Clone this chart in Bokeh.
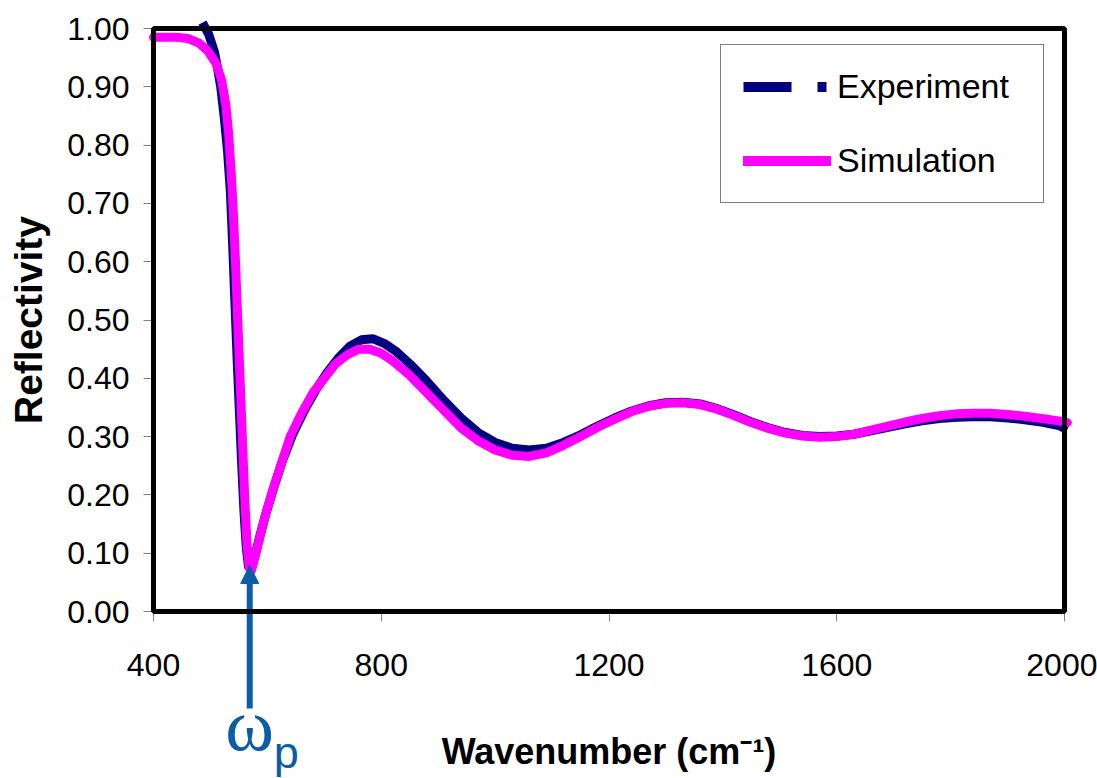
import math
from bokeh.plotting import figure
from bokeh.models import (Range1d, FixedTicker, PrintfTickFormatter, Legend, LegendItem,
                          Arrow, NormalHead, Label, LinearAxis, BoxAnnotation)
from bokeh.embed import file_html
from bokeh.resources import INLINE

# ---- data ----
sim_w = [400, 440, 460, 480, 495, 510, 520, 527, 532, 536, 540, 544, 548, 552, 556, 560,
         564, 568, 572, 576, 585, 595, 610, 625, 640, 660, 680, 700, 720, 740, 760, 780,
         800, 820, 850, 880, 910, 940, 970, 1000, 1030, 1060, 1090, 1120, 1150, 1180, 1210,
         1240, 1270, 1300, 1330, 1360, 1390, 1420, 1450, 1480, 1510, 1540, 1570, 1600, 1630,
         1660, 1690, 1720, 1750, 1780, 1810, 1840, 1870, 1900, 1930, 1960, 1990, 2005]
sim_r = [0.985, 0.985, 0.983, 0.975, 0.962, 0.94, 0.91, 0.87, 0.82, 0.76, 0.69, 0.60, 0.50,
         0.40, 0.30, 0.20, 0.12, 0.075, 0.07, 0.085, 0.12, 0.16, 0.21, 0.255, 0.30, 0.34,
         0.375, 0.40, 0.425, 0.44, 0.45, 0.45, 0.443, 0.43, 0.405, 0.375, 0.345, 0.315,
         0.293, 0.277, 0.268, 0.266, 0.272, 0.285, 0.30, 0.316, 0.33, 0.343, 0.352, 0.357,
         0.358, 0.355, 0.347, 0.336, 0.324, 0.314, 0.306, 0.301, 0.299, 0.300, 0.304, 0.311,
         0.318, 0.325, 0.331, 0.336, 0.339, 0.340, 0.340, 0.338, 0.335, 0.331, 0.327, 0.324]

exp_w = [486, 497, 507, 511, 518, 524, 530, 535, 539, 543, 547, 551, 555, 559, 563, 567,
         572, 578, 587, 598, 612, 627, 645, 665, 685, 705, 725, 745, 765, 785, 805, 825,
         850, 880, 910, 940, 970, 1000, 1030, 1060, 1090, 1120, 1150, 1180, 1210, 1240, 1270,
         1300, 1330, 1360, 1390, 1420, 1450, 1480, 1510, 1540, 1570, 1600, 1630, 1660, 1690,
         1720, 1750, 1780, 1810, 1840, 1870, 1900, 1930, 1960, 1990, 2005]
exp_r = [1.01, 0.99, 0.96, 0.94, 0.90, 0.85, 0.79, 0.72, 0.63, 0.53, 0.43, 0.34, 0.25, 0.17,
         0.11, 0.075, 0.075, 0.095, 0.13, 0.17, 0.215, 0.26, 0.305, 0.345, 0.38, 0.41, 0.435,
         0.455, 0.466, 0.468, 0.46, 0.447, 0.425, 0.395, 0.362, 0.332, 0.307, 0.29, 0.28,
         0.277, 0.28, 0.29, 0.303, 0.318, 0.332, 0.344, 0.353, 0.358, 0.359, 0.356, 0.348,
         0.337, 0.325, 0.315, 0.307, 0.302, 0.300, 0.301, 0.304, 0.310, 0.316, 0.322, 0.327,
         0.331, 0.333, 0.334, 0.334, 0.332, 0.329, 0.325, 0.319, 0.312]

x_ticks = [400, 800, 1200, 1600, 2000]
y_ticks = [0.0, 0.1, 0.2, 0.3, 0.4, 0.5, 0.6, 0.7, 0.8, 0.9, 1.0]
omega_p = 569
omega_p_r = 0.079

# axis extents and page layout
X0, X1, Y0, Y1 = 400, 2000, 0.0, 1.0
W, H = 1097, 778
BL, BR, BT, BB = 153, 33, 28, 167          # space around the plot box, px
FW, FH = W - BL - BR, H - BT - BB
UX = (X1 - X0) / FW                        # data units per px
UY = (Y1 - Y0) / FH

FONT = "Liberation Sans Narrow, Liberation Sans, Arial, sans-serif"
NAVY = "#000080"
MAGENTA = "#ff00ff"
BLUE = "#0a5ea8"

p = figure(width=W, height=H, output_backend="svg", toolbar_location=None,
           x_axis_location=None, y_axis_location=None,
           x_range=Range1d(X0 - BL * UX, X1 + BR * UX),
           y_range=Range1d(Y0 - BB * UY, Y1 + BT * UY),
           min_border=0)
p.background_fill_color = "white"
p.border_fill_color = "white"
p.outline_line_color = None
p.xgrid.visible = False
p.ygrid.visible = False

xaxis = LinearAxis(fixed_location=Y0, bounds=(X0, X1), ticker=FixedTicker(ticks=x_ticks))
yaxis = LinearAxis(fixed_location=X0, bounds=(Y0, Y1), ticker=FixedTicker(ticks=y_ticks),
                   formatter=PrintfTickFormatter(format="%.2f"))
for ax in (xaxis, yaxis):
    ax.axis_line_color = None
    ax.major_tick_in = 0
    ax.major_tick_out = 10
    ax.major_tick_line_color = "#808080"
    ax.major_tick_line_width = 1
    ax.minor_tick_line_color = None
    ax.major_label_text_font = FONT
    ax.major_label_text_font_size = "32px"
    ax.major_label_text_color = "black"
    ax.axis_label_text_font = FONT
    ax.axis_label_text_font_style = "bold"
    ax.axis_label_text_color = "black"
xaxis.major_label_standoff = 32
yaxis.major_label_standoff = 14
xaxis.axis_label = "Wavenumber (cm\u207b\u00b9)"
yaxis.axis_label = "Reflectivity"
xaxis.axis_label_text_font_size = "36px"
yaxis.axis_label_text_font_size = "39px"
xaxis.axis_label_standoff = 52
yaxis.axis_label_standoff = 14
p.add_layout(xaxis, "below")
p.add_layout(yaxis, "left")

# plot box
p.add_layout(BoxAnnotation(left=X0, right=X1, bottom=Y0, top=Y1, fill_alpha=0,
                           line_color="black", line_alpha=1, line_width=5, level="overlay"))

exp_line = p.line(exp_w, exp_r, line_color=NAVY, line_width=9)
sim_line = p.line(sim_w, sim_r, line_color=MAGENTA, line_width=9, line_cap="round",
                  line_join="round")

# legend proxies (not drawn in the plot area)
nan = [math.nan]
exp_leg = p.line(nan, nan, line_color=NAVY, line_width=10, line_dash="48 26 9 200")
sim_leg = p.line(nan, nan, line_color=MAGENTA, line_width=10, line_cap="round")

legend = Legend(items=[LegendItem(label="Experiment", renderers=[exp_leg]),
                       LegendItem(label="Simulation", renderers=[sim_leg])],
                location=(720, H - 203))
legend.label_text_font = FONT
legend.label_text_font_size = "34px"
legend.label_text_color = "black"
legend.glyph_width = 88
legend.glyph_height = 39
legend.label_height = 39
legend.label_width = 184
legend.label_standoff = 6
legend.spacing = 35
legend.padding = 22
legend.margin = 0
legend.border_line_color = "black"
legend.border_line_width = 1.5
legend.background_fill_color = "white"
legend.background_fill_alpha = 1
p.add_layout(legend, "center")

# omega_p marker
arrow = Arrow(x_start=omega_p, y_start=Y0 - 97 * UY, x_end=omega_p, y_end=omega_p_r,
              line_color=BLUE, line_width=6,
              end=NormalHead(size=18, fill_color=BLUE, line_color=BLUE))
p.add_layout(arrow)

p.add_layout(Label(x=omega_p, y=Y0 - 113 * UY, text="\u03c9", text_align="center",
                   text_baseline="alphabetic", text_color=BLUE,
                   text_font="Liberation Serif, DejaVu Serif, serif", text_font_size="74px"))
p.add_layout(Label(x=omega_p, y=Y0 - 141 * UY, x_offset=24, text="p", text_align="left",
                   text_baseline="alphabetic", text_color=BLUE,
                   text_font="Liberation Sans, Arial, sans-serif", text_font_size="45px"))

open("out.html", "w").write(file_html(p, INLINE))
